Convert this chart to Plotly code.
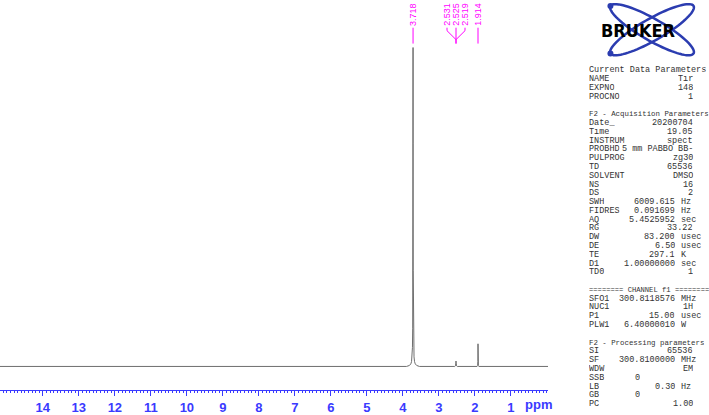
import numpy as np
import plotly.graph_objects as go

# spectrum points (ppm, relative intensity)
ppm = [15.2, 3.90, 3.82, 3.78, 3.76, 3.745, 3.735, 3.728, 3.723, 3.720, 3.718,
       3.716, 3.713, 3.708, 3.701, 3.691, 3.676, 3.656, 3.616, 3.54,
       2.56, 2.54, 2.533, 2.531, 2.528, 2.525, 2.522, 2.519, 2.517, 2.51, 2.49,
       1.94, 1.925, 1.918, 1.915, 1.914, 1.913, 1.910, 1.903, 1.89, -0.1]
intensity = [0, 0, 0.3, 0.8, 1.5, 3, 6, 12, 30, 70, 100,
             70, 30, 12, 6, 3, 1.5, 0.8, 0.3, 0,
             0, 0.2, 0.8, 1.2, 1.0, 1.7, 1.0, 1.2, 0.8, 0.2, 0,
             0, 0.3, 1.5, 6, 7.1, 6, 1.5, 0.3, 0, 0]

peak_labels = ["3.718", "2.531", "2.525", "2.519", "1.914"]
peak_pos = [3.718, 2.525, 2.525, 2.525, 1.914]
label_shift = [0, -9, 0, 9, 0]

params = [
    ("Current Data Parameters", "", ""),
    ("NAME", "Tir", ""),
    ("EXPNO", "148", ""),
    ("PROCNO", "1", ""),
    None,
    ("F2 - Acquisition Parameters", "", ""),
    ("Date_", "20200704", ""),
    ("Time", "19.05", ""),
    ("INSTRUM", "spect", ""),
    ("PROBHD", "5 mm PABBO BB-", ""),
    ("PULPROG", "zg30", ""),
    ("TD", "65536", ""),
    ("SOLVENT", "DMSO", ""),
    ("NS", "16", ""),
    ("DS", "2", ""),
    ("SWH", "6009.615", "Hz"),
    ("FIDRES", "0.091699", "Hz"),
    ("AQ", "5.4525952", "sec"),
    ("RG", "33.22", ""),
    ("DW", "83.200", "usec"),
    ("DE", "6.50", "usec"),
    ("TE", "297.1", "K"),
    ("D1", "1.00000000", "sec"),
    ("TD0", "1", ""),
    None,
    ("======== CHANNEL f1 ========", "", ""),
    ("SFO1", "300.8118576", "MHz"),
    ("NUC1", "1H", ""),
    ("P1", "15.00", "usec"),
    ("PLW1", "6.40000010", "W"),
    None,
    ("F2 - Processing parameters", "", ""),
    ("SI", "65536", ""),
    ("SF", "300.8100000", "MHz"),
    ("WDW", "EM", ""),
    ("SSB", "0", "@"),
    ("LB", "0.30", "Hz"),
    ("GB", "0", "@"),
    ("PC", "1.00", ""),
]

W, H = 709, 415
BLUE = "#3a3aff"
MAG = "#ff00ff"

fig = go.Figure()
fig.add_trace(go.Scatter(x=ppm, y=intensity, mode="lines",
                         line=dict(color="#6e6e6e", width=1), hoverinfo="skip"))

def px(x):
    return x / W

def py(y):
    return 1 - y / H

ann = []
shapes = []

# peak labels and leader lines
for lab, pos, sh in zip(peak_labels, peak_pos, label_shift):
    ann.append(dict(x=pos, y=py(15), xref="x", yref="paper", text=lab, textangle=-90,
                    xanchor="center", yanchor="middle",
                    showarrow=False, xshift=sh, font=dict(family="Liberation Sans", size=9, color=MAG)))
    if sh == 0:
        shapes.append(dict(type="line", xref="x", yref="paper", xsizemode="pixel", xanchor=pos,
                           x0=0, x1=0, y0=py(28), y1=py(44), line=dict(color=MAG, width=1)))
    else:
        shapes.append(dict(type="line", xref="x", yref="paper", xsizemode="pixel", xanchor=pos,
                           x0=sh, x1=sh, y0=py(28), y1=py(31), line=dict(color=MAG, width=1)))
        shapes.append(dict(type="line", xref="x", yref="paper", xsizemode="pixel", xanchor=pos,
                           x0=sh, x1=0, y0=py(31), y1=py(40), line=dict(color=MAG, width=1)))
shapes.append(dict(type="line", xref="x", yref="paper", xsizemode="pixel", xanchor=2.525,
                   x0=0, x1=0, y0=py(40), y1=py(44), line=dict(color=MAG, width=1)))

# ppm unit
ann.append(dict(x=px(538), y=py(408), xref="paper", yref="paper", text="ppm", showarrow=False,
                xanchor="center", yanchor="middle",
                font=dict(family="Liberation Sans", size=13, color=BLUE, weight="bold")))

# Bruker logo: two tilted orbits + dots + wordmark
t = np.linspace(0, 2 * np.pi, 80)
cx, cy, a, b = 652, 30, 48, 11
for ang in (30, -30):
    r = np.radians(ang)
    xs = cx + a * np.cos(t) * np.cos(r) - b * np.sin(t) * np.sin(r)
    ys = cy - (a * np.cos(t) * np.sin(r) + b * np.sin(t) * np.cos(r))
    path = "M" + " L".join(f"{px(x):.5f},{py(y):.5f}" for x, y in zip(xs, ys)) + " Z"
    shapes.append(dict(type="path", xref="paper", yref="paper", path=path,
                       line=dict(color="#2b3cb0", width=2.5)))
    dx = cx - a * np.cos(r)
    dy = cy + a * np.sin(r)
    shapes.append(dict(type="circle", xref="paper", yref="paper",
                       x0=px(dx - 3), x1=px(dx + 3), y0=py(dy - 3), y1=py(dy + 3),
                       fillcolor="#2b3cb0", line=dict(width=0)))
ann.append(dict(x=px(638), y=py(31), xref="paper", yref="paper", text="BRUKER", showarrow=False,
                xanchor="center", yanchor="middle",
                font=dict(family="DejaVu Sans Condensed, DejaVu Sans", size=18, color="black", weight="bold")))

# parameter listing
x0, y0, step = 588, 71, 8.87
tf = dict(family="Liberation Mono", size=8.5, color="#333333")
for i, row in enumerate(params):
    if row is None:
        continue
    name, val, unit = row
    y = py(y0 + step * i)
    f = tf if len(name) < 25 else dict(tf, size=min(7.4, 201 / len(name)))
    common = dict(y=y, xref="paper", yref="paper", showarrow=False, yanchor="middle",
                  height=8, borderpad=0)
    ann.append(dict(common, x=px(x0), text=name, xanchor="left", font=f))
    if not val:
        continue
    if unit == "@":
        ann.append(dict(common, x=px(634), text=val, xanchor="left", font=tf))
    elif unit:
        ann.append(dict(common, x=px(676), text=val, xanchor="right", font=tf))
        ann.append(dict(common, x=px(680), text=unit, xanchor="left", font=tf))
    else:
        ann.append(dict(common, x=px(694), text=val, xanchor="right", font=tf))

fig.update_layout(
    width=W, height=H,
    margin=dict(l=0, r=0, t=0, b=0),
    paper_bgcolor="white", plot_bgcolor="white",
    showlegend=False,
    annotations=ann, shapes=shapes,
    xaxis=dict(domain=[0, 548 / W], range=[15.19, -0.03], showgrid=False, zeroline=False,
               showline=True, linecolor=BLUE, linewidth=1,
               ticks="outside", ticklen=5, tickcolor=BLUE, tickwidth=1,
               tickmode="array", tickvals=list(range(1, 15)), ticktext=[str(v) for v in range(1, 15)],
               tickfont=dict(family="Liberation Sans", size=13, color=BLUE, weight="bold"),
               minor=dict(dtick=0.1, tick0=0, ticks="outside", ticklen=2, tickcolor=BLUE, showgrid=False)),
    yaxis=dict(domain=[21 / H, 1], range=[-7.45, 114.9], visible=False),
)

fig.write_html("out.html", config={"displayModeBar": False},
               post_script="document.body.style.margin='0';document.body.style.overflow='hidden';")
